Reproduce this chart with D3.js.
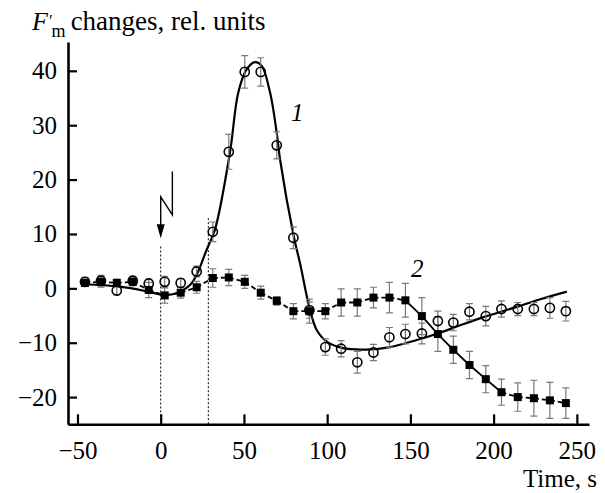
<!DOCTYPE html>
<html>
<head>
<meta charset="utf-8">
<script src="https://cdn.jsdelivr.net/npm/d3@7"></script>
<style>
  html, body { margin: 0; padding: 0; background: #fff; }
  svg { display: block; font-family: "Liberation Serif", "Times New Roman", serif; }
</style>
</head>
<body>
<svg id="chart" width="605" height="493"></svg>
<script>
// measurement times (s), shared by both series
const times = [-45.5, -35.9, -26.4, -16.8, -7.2, 2.4, 12.0, 21.6, 31.3, 40.9, 50.5, 60.1, 69.7, 79.7, 89.3,
  98.9, 108.4, 118.1, 127.8, 137.4, 147.0, 156.9, 166.5, 175.8, 185.5, 195.3, 204.7, 214.5, 224.2, 233.8, 243.4];

// series 1 (open circles)
const circleVals = [1.2, 1.4, -0.4, 1.4, 0.9, 1.2, 1.0, 3.1, 10.4, 25.1, 39.8, 39.8, 26.3, 9.3, -4.0,
  -10.8, -11.1, -13.6, -11.8, -9.0, -8.4, -8.3, -6.0, -6.3, -4.3, -5.1, -3.8, -3.8, -3.8, -3.6, -4.2];
const circleErr = [0.8, 1.0, 0.8, 0.8, 0.8, 1.0, 0.8, 1.0, 1.8, 3.2, 3.0, 2.6, 2.5, 2.0, 1.5,
  1.5, 1.5, 2.0, 1.5, 1.8, 1.8, 1.9, 1.8, 1.5, 1.5, 1.8, 1.5, 1.2, 1.2, 1.9, 1.8];

// series 2 (filled squares)
const squareVals = [1.0, 1.2, 1.0, 1.2, -0.3, -1.3, -0.8, 0.2, 1.9, 2.0, 1.2, -0.8, -2.3, -4.2, -4.2,
  -4.2, -2.6, -2.6, -1.7, -1.7, -2.2, -5.1, -8.4, -11.3, -14.1, -16.7, -19.1, -20.0, -20.2, -20.6, -21.1];
const squareErr = [0.6, 1.0, 0.7, 0.7, 1.4, 1.4, 1.0, 1.1, 1.7, 1.5, 1.2, 1.2, 0.8, 1.4, 2.2,
  1.4, 2.5, 2.5, 1.9, 2.8, 3.1, 3.4, 3.2, 2.5, 2.5, 2.5, 2.4, 2.6, 3.3, 3.3, 2.8];

// fitted curve for series 1
const fitT = [-47.5, -24.5, -7.5, 1.6, 9.6, 17.6, 21.6, 27.6, 32.6, 41.6, 46.6, 51.7, 56.7, 60.7, 65.7,
  69.7, 71.7, 80.1, 83.7, 89.7, 93.8, 99.8, 109.6, 123.8, 137.8, 153.8, 166.5, 179.9, 195.9, 213.9, 228.0, 244.0];
const fitV = [0.8, 0.3, -0.6, -1.2, -0.9, 0.6, 2.5, 7.1, 10.8, 25.0, 36.0, 40.3, 41.6, 40.9, 36.0,
  28.6, 23.7, 9.3, 4.6, -4.0, -7.7, -9.8, -11.0, -11.25, -10.8, -9.5, -8.3, -6.8, -5.1, -3.4, -2.0, -0.6];

const xTicks = [-50, 0, 50, 100, 150, 200, 250];
const yTicks = [-20, -10, 0, 10, 20, 30, 40];

const svg = d3.select("#chart");
const x = d3.scaleLinear().domain([-55.7, 257.3]).range([68, 589]);
const y = d3.scaleLinear().domain([-25, 45.3]).range([424.3, 42]);
const fs = 25;

// axes
const minus = d => d < 0 ? "\u2212" + Math.abs(d) : d;
const xAxis = svg.append("g").attr("transform", `translate(0,${y(-25)})`)
  .call(d3.axisBottom(x).tickValues(xTicks).tickSizeInner(-10).tickSizeOuter(0).tickPadding(17).tickFormat(minus));
const yAxis = svg.append("g").attr("transform", `translate(${x(-55.7)},0)`)
  .call(d3.axisLeft(y).tickValues(yTicks).tickSizeInner(-9).tickSizeOuter(0).tickPadding(11).tickFormat(minus));
[xAxis, yAxis].forEach(a => {
  a.select(".domain").attr("stroke", "#000").attr("stroke-width", 2.6);
  a.selectAll(".tick line").attr("stroke", "#000").attr("stroke-width", 2.2);
  a.selectAll(".tick text").attr("font-size", fs).attr("font-family", "Liberation Serif").attr("fill", "#000");
});

// dotted markers at stimulus times
const markers = [{t: 0, top: 7.7}, {t: 28.6, top: 12.9}];
svg.selectAll(".vmark").data(markers).join("line").attr("class", "vmark")
  .attr("x1", d => x(d.t)).attr("x2", d => x(d.t))
  .attr("y1", d => y(d.top)).attr("y2", y(-25))
  .attr("stroke", "#000").attr("stroke-width", 1).attr("stroke-dasharray", "2,2");

// lightning arrow
const bolt = [[7, 21.5], [7, 13.5], [0, 16.8], [0, 11.2]];
svg.append("path")
  .attr("d", d3.line().x(d => x(d[0])).y(d => y(d[1]))(bolt))
  .attr("fill", "none").attr("stroke", "#000").attr("stroke-width", 1.4);
svg.append("path")
  .attr("d", `M${x(0) - 4},${y(11.8)} L${x(0) + 4},${y(11.8)} L${x(0)},${y(9.2)} Z`)
  .attr("fill", "#000");

// fitted curve 1
const fitData = fitT.map((t, i) => ({t, v: fitV[i]}));
svg.append("path").datum(fitData)
  .attr("d", d3.line().x(d => x(d.t)).y(d => y(d.v)).curve(d3.curveCatmullRom.alpha(0.5)))
  .attr("fill", "none").attr("stroke", "#000").attr("stroke-width", 2.2);

const circles = times.map((t, i) => ({t, v: circleVals[i], e: circleErr[i]}));
const squares = times.map((t, i) => ({t, v: squareVals[i], e: squareErr[i]}));

// connecting line of series 2: dashed where flat, solid on the steep drop
const segs = d3.pairs(squares);
svg.selectAll(".seg").data(segs).join("line").attr("class", "seg")
  .attr("x1", d => x(d[0].t)).attr("y1", d => y(d[0].v))
  .attr("x2", d => x(d[1].t)).attr("y2", d => y(d[1].v))
  .attr("stroke", "#000").attr("stroke-width", 1.8)
  .attr("stroke-dasharray", d => Math.abs(d[1].v - d[0].v) > 2.2 ? null : "5,3");

// error bars
function errorBars(data, cls) {
  const g = svg.append("g").attr("class", cls).attr("stroke", "#7a7a7a").attr("stroke-width", 1.2);
  g.selectAll("path").data(data).join("path")
    .attr("fill", "none")
    .attr("d", d => {
      const cx = x(d.t), y0 = y(d.v + d.e), y1 = y(d.v - d.e);
      return `M${cx - 3.5},${y0}H${cx + 3.5}M${cx},${y0}V${y1}M${cx - 3.5},${y1}H${cx + 3.5}`;
    });
}
errorBars(squares, "sq-err");
errorBars(circles, "ci-err");

svg.selectAll(".sq").data(squares).join("rect").attr("class", "sq")
  .attr("x", d => x(d.t) - 4).attr("y", d => y(d.v) - 4)
  .attr("width", 8).attr("height", 8).attr("fill", "#000");

svg.selectAll(".ci").data(circles).join("circle").attr("class", "ci")
  .attr("cx", d => x(d.t)).attr("cy", d => y(d.v)).attr("r", 4.6)
  .attr("fill", "none").attr("stroke", "#000").attr("stroke-width", 1.6);

// curve labels
svg.append("text").attr("x", 291).attr("y", 121).attr("font-size", 25).attr("font-style", "italic").text("1");
svg.append("text").attr("x", 411).attr("y", 277).attr("font-size", 25).attr("font-style", "italic").text("2");

// axis titles
const title = svg.append("text").attr("x", 32).attr("y", 30).attr("font-size", 26);
title.append("tspan").attr("font-style", "italic").text("F");
title.append("tspan").attr("dx", 1).attr("dy", -4).attr("font-size", 17).text("\u2032");
title.append("tspan").attr("dx", -1).attr("dy", 11).attr("font-size", 18).text("m");
title.append("tspan").attr("dx", 5).attr("dy", -7).attr("font-size", 27).text("changes, rel. units");

svg.append("text").attr("x", 597).attr("y", 487).attr("text-anchor", "end").attr("font-size", fs).text("Time, s");
</script>
</body>
</html>
